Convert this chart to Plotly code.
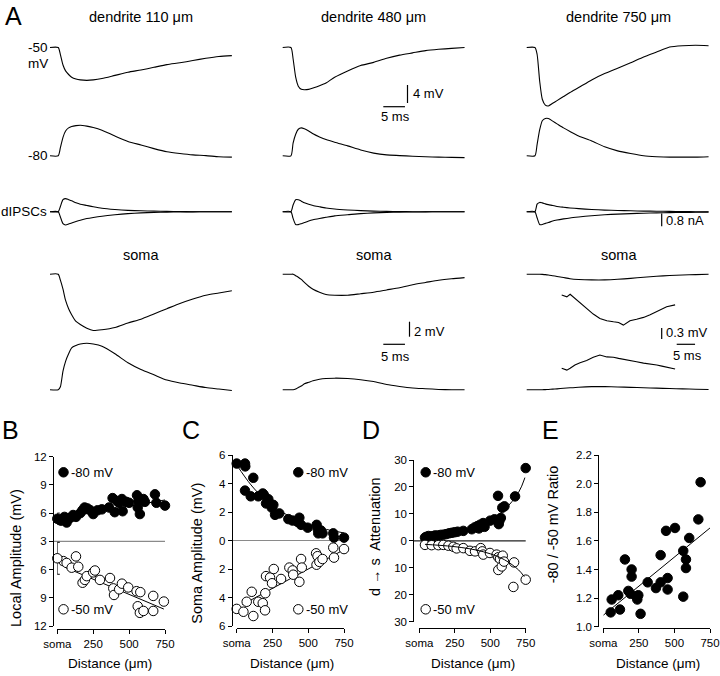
import plotly.graph_objects as go

W, H = 720, 676
FONT = "Liberation Sans"

# ---------------- Panel A: example traces (time in ms; mV or nA) ----------------
T = [0, 1.9, 2.4, 3.0, 3.6, 4.3, 5.0, 6.0, 7.0, 8.5, 10, 12, 15, 18, 21, 24, 27, 30, 33, 36, 39, 42]
col_titles = ["dendrite 110 μm", "dendrite 480 μm", "dendrite 750 μm"]

dend50_110 = [0, 0, -1.6, -3.9, -5.2, -6.0, -6.6, -7.0, -7.2, -7.3, -7.2, -6.9, -6.2, -5.5, -5.0, -4.4, -3.8, -3.4, -2.9, -2.4, -2.0, -1.8]
dend80_110 = [0, 0, 1.8, 4.1, 5.5, 6.2, 6.5, 6.7, 6.8, 6.6, 6.3, 5.7, 4.4, 3.2, 2.4, 1.6, 0.9, 0.5, 0.2, 0.05, -0.2, -0.3]
dend50_480 = [0, 0, -2.5, -6.6, -8.6, -9.3, -9.4, -9.3, -9.0, -8.5, -7.9, -6.6, -5.2, -4.0, -3.3, -2.4, -1.7, -1.2, -0.7, -0.4, -0.2, 0.0]
dend80_480 = [0, 0, 2.8, 4.8, 5.9, 6.2, 6.0, 5.5, 4.9, 4.2, 3.6, 3.0, 2.2, 1.3, 0.6, 0.2, 0.05, -0.1, -0.2, -0.3, -0.35, -0.4]
dend50_750 = [0, 0, -1.5, -7.5, -11.5, -12.8, -13.0, -12.4, -11.8, -10.9, -10.0, -8.9, -7.2, -5.8, -4.6, -3.4, -2.1, -1.0, 0.1, 0.4, 0.5, 0.4]
dend80_750 = [0, 0, 2.5, 5.8, 7.8, 8.3, 8.3, 7.7, 7.1, 6.2, 5.4, 4.4, 3.3, 2.0, 1.1, 0.5, 0.0, -0.2, -0.3, -0.3, -0.3, -0.2]

ipsc_out_110 = [0, 0, 0.33, 0.75, 0.82, 0.75, 0.68, 0.56, 0.47, 0.39, 0.31, 0.22, 0.14, 0.085, 0.056, 0.038, 0.02, 0.01, 0, 0, 0, 0]
ipsc_in_110 = [0, 0, -0.33, -0.75, -0.83, -0.77, -0.7, -0.61, -0.53, -0.43, -0.36, -0.28, -0.19, -0.12, -0.075, -0.047, -0.028, -0.019, -0.01, 0, 0, 0]
ipsc_out_480 = [0, 0, 0.42, 0.75, 0.75, 0.66, 0.56, 0.47, 0.39, 0.31, 0.235, 0.17, 0.11, 0.066, 0.038, 0.019, 0.01, 0, 0, 0, 0, 0]
ipsc_in_480 = [0, 0, -0.42, -0.8, -0.81, -0.75, -0.68, -0.58, -0.5, -0.42, -0.35, -0.26, -0.19, -0.12, -0.075, -0.047, -0.028, -0.019, -0.01, 0, 0, 0]
ipsc_out_750 = [0, 0, 0.47, 0.58, 0.55, 0.49, 0.44, 0.39, 0.33, 0.28, 0.235, 0.19, 0.14, 0.1, 0.075, 0.056, 0.038, 0.028, 0.019, 0.01, 0, 0]
ipsc_in_750 = [0, 0, -0.38, -0.8, -0.8, -0.73, -0.68, -0.58, -0.52, -0.45, -0.39, -0.33, -0.25, -0.19, -0.15, -0.12, -0.094, -0.075, -0.056, -0.047, -0.038, -0.028]

soma50_110 = [0, 0, -0.8, -2.0, -3.5, -4.6, -5.4, -6.3, -6.7, -7.2, -7.5, -7.4, -7.1, -6.5, -6.0, -5.3, -4.6, -3.9, -3.3, -2.8, -2.5, -2.2]
soma80_110 = [0, 0, 0.4, 2.5, 3.8, 4.8, 5.6, 5.9, 6.1, 6.2, 6.1, 5.8, 4.8, 3.6, 2.7, 2.0, 1.3, 0.9, 0.6, 0.3, 0.1, -0.1]
soma50_480 = [0, 0, 0, -0.2, -0.4, -0.7, -1.1, -1.6, -2.0, -2.4, -2.7, -2.8, -2.8, -2.6, -2.4, -2.1, -1.8, -1.4, -1.1, -0.8, -0.6, -0.45]
soma80_480 = [0, 0, 0, 0.1, 0.3, 0.5, 0.8, 1.0, 1.2, 1.4, 1.5, 1.55, 1.5, 1.35, 1.1, 0.7, 0.45, 0.25, 0.15, 0.05, 0, 0]
soma50_750 = [0, 0, 0, 0, -0.02, -0.05, -0.1, -0.2, -0.3, -0.45, -0.6, -0.7, -0.76, -0.76, -0.68, -0.55, -0.4, -0.28, -0.17, -0.1, -0.05, 0]
soma80_750 = [0, 0, 0, 0, 0.01, 0.03, 0.05, 0.09, 0.13, 0.2, 0.27, 0.35, 0.42, 0.42, 0.38, 0.33, 0.28, 0.22, 0.17, 0.12, 0.08, 0.05]

# amplified soma traces for the 750 um site
TA = [0, 1.4, 2.3, 3.6, 5.0, 6.8, 8.6, 10.4, 12.3, 14.1, 15.5, 16.8, 17.7, 18.6, 20.4, 22.3, 24.1, 25.9, 27.3, 28.6, 30.9]
amp50_750 = [0, -0.05, 0.02, -0.09, -0.23, -0.36, -0.52, -0.64, -0.70, -0.73, -0.75, -0.82, -0.77, -0.70, -0.66, -0.61, -0.54, -0.45, -0.39, -0.32, -0.27]
amp80_750 = [0, -0.05, 0, 0.09, 0.15, 0.21, 0.30, 0.36, 0.31, 0.30, 0.27, 0.25, 0.23, 0.21, 0.18, 0.14, 0.12, 0.09, 0.06, 0.03, -0.02]

# ---------------- Panels B-E: distance (um) ----------------
dist_ticks = [0, 250, 500, 750]
dist_ticktext = ["soma", "250", "500", "750"]

B_x80 = [25, 50, 65, 90, 110, 130, 160, 175, 190, 210, 230, 250, 280, 310, 360, 385, 400, 415, 430, 450, 455, 480, 500, 555, 560, 565, 575, 600, 610, 680, 690, 750]
B_y80 = [5.2, 5.6, 5.0, 5.5, 5.8, 5.6, 6.0, 6.3, 6.6, 6.5, 6.3, 5.9, 6.3, 6.4, 6.6, 7.6, 6.1, 7.3, 7.1, 7.5, 6.2, 7.2, 7.1, 7.9, 6.6, 7.3, 5.9, 7.5, 7.2, 8.0, 7.1, 6.8]
B_x50 = [42, 65, 100, 130, 146, 176, 192, 205, 250, 262, 297, 367, 390, 395, 431, 450, 494, 552, 560, 575, 578, 600, 668, 668, 742]
B_y50 = [5.1, 5.3, 5.8, 4.6, 5.7, 7.4, 7.1, 6.7, 6.3, 6.1, 7.1, 6.9, 8.0, 8.7, 8.1, 7.5, 7.9, 8.3, 9.9, 10.6, 8.4, 10.4, 8.8, 10.4, 9.4]
B_soma80, B_err80 = 5.4, 0.6
B_soma50, B_err50 = 4.8, 1.7
B_fit80_x, B_fit80_y = [0, 750], [5.4, 7.4]
B_fit50_x, B_fit50_y = [60, 742], [5.8, 10.2]

C_x80 = [0, 58, 60, 116, 58, 98, 151, 182, 190, 205, 221, 245, 256, 268, 298, 361, 390, 426, 438, 450, 496, 559, 566, 570, 589, 600, 675, 680, 750]
C_y80 = [5.4, 5.4, 5.2, 4.4, 3.5, 3.1, 3.1, 3.3, 3.2, 2.6, 2.9, 2.3, 2.5, 1.8, 1.9, 1.5, 1.4, 1.3, 1.6, 1.1, 0.9, 1.1, 0.8, 0.5, 0.7, 0.5, 0.5, 0.2, 0.2]
C_x50 = [0, 47, 70, 105, 116, 151, 182, 198, 200, 205, 233, 247, 259, 310, 368, 391, 395, 438, 450, 455, 555, 558, 565, 578, 600, 675, 680, 750]
C_y50 = [4.8, 5.0, 4.3, 3.6, 5.3, 4.3, 4.4, 4.9, 3.7, 2.5, 2.6, 3.0, 2.0, 2.7, 1.9, 2.1, 2.4, 2.9, 1.3, 1.9, 0.9, 1.7, 1.1, 1.5, 1.3, 0.5, 1.2, 0.6]
C_fit80_x = [0, 100, 200, 300, 400, 500, 600, 750]
C_fit80_y = [5.3, 3.9, 2.85, 2.1, 1.55, 1.13, 0.84, 0.53]
C_fit50_x, C_fit50_y = [40, 740], [4.5, 0.7]

D_x80 = [40, 50, 65, 75, 90, 110, 130, 150, 170, 190, 210, 230, 250, 270, 310, 370, 390, 410, 420, 430, 450, 460, 500, 530, 555, 560, 565, 575, 585, 600, 665, 675, 750]
D_y80 = [1.2, 1.5, 1.8, 1.0, 1.7, 2.0, 2.0, 2.2, 2.3, 2.5, 2.8, 3.0, 3.2, 3.4, 3.7, 4.3, 5.0, 5.5, 4.6, 6.0, 6.6, 5.2, 7.5, 8.0, 16.7, 6.2, 7.5, 8.5, 12.3, 12.8, 30.2, 16.5, 27.0]
D_x50 = [40, 87, 134, 169, 205, 240, 263, 310, 357, 393, 433, 444, 451, 498, 545, 557, 569, 557, 581, 588, 597, 668, 663, 750]
D_y50 = [1.5, 1.6, 1.6, 1.5, 1.8, 2.2, 2.8, 2.7, 3.7, 3.9, 2.7, 3.9, 5.1, 4.5, 5.1, 6.1, 6.7, 10.8, 9.5, 5.5, 7.7, 8.0, 17.1, 14.4]
D_fit80_x = [40, 200, 300, 400, 500, 600, 700, 745]
D_fit80_y = [1.2, 2.3, 3.4, 5.0, 7.6, 11.5, 18.0, 23.5]
D_fit50_x = [40, 200, 300, 400, 500, 600, 700, 740]
D_fit50_y = [1.3, 1.9, 2.5, 3.4, 4.8, 7.0, 10.8, 13.3]

E_x = [52, 59, 105, 117, 152, 176, 192, 199, 199, 234, 239, 246, 262, 312, 370, 403, 403, 441, 452, 452, 504, 562, 562, 581, 581, 604, 668, 684, 755]
E_y = [1.10, 1.19, 1.22, 1.12, 1.47, 1.25, 1.23, 1.40, 1.35, 1.21, 1.19, 1.22, 1.09, 1.31, 1.27, 1.31, 1.50, 1.67, 1.34, 1.26, 1.69, 1.53, 1.21, 1.47, 1.41, 1.62, 1.75, 2.01, 1.87]
E_fit_x, E_fit_y = [0, 750], [1.08, 1.69]

# ---------------- layout geometry (pixels) ----------------
COL_X0 = [50, 282.7, 526.7]       # trace start of each column
MS_PX = 4.33                      # px per ms
AMP_X0, AMP_MS_PX = 561.7, 3.67
ROWS = {  # name: (axis index, baseline px, px per unit)
    "d50": (1, 47.5, 4.5), "d80": (2, 155.8, 4.5), "ipsc": (3, 211.7, 16.0),
    "s50": (4, 274.2, 7.5), "s80": (5, 389.8, 7.5),
    "a50": (6, 295.0, 36.7), "a80": (7, 368.3, 36.7),
}

def ax_name(kind, i):
    return f"{kind}axis" + ("" if i == 1 else str(i))

def ref(kind, i):
    return kind + ("" if i == 1 else str(i))

layout = {}
hidden = dict(domain=[0, 1], visible=False, fixedrange=True, automargin=False)
for i, x0 in enumerate(COL_X0, start=1):
    layout[ax_name("x", i)] = dict(range=[-x0 / MS_PX, (W - x0) / MS_PX], **hidden)
layout[ax_name("x", 4)] = dict(range=[-AMP_X0 / AMP_MS_PX, (W - AMP_X0) / AMP_MS_PX], **hidden)
for name, (i, b, s) in ROWS.items():
    layout[ax_name("y", i)] = dict(range=[(b - H) / s, b / s], **hidden)

fig = go.Figure()

def trace(x, y, xi, yi, smooth=True):
    line = dict(color="black", width=1.1)
    if smooth:
        line.update(shape="spline", smoothing=0.6)
    fig.add_trace(go.Scatter(x=x, y=y, mode="lines", line=line, xaxis=ref("x", xi), yaxis=ref("y", yi), hoverinfo="skip"))

col_sets = [
    (dend50_110, dend80_110, ipsc_out_110, ipsc_in_110, soma50_110, soma80_110),
    (dend50_480, dend80_480, ipsc_out_480, ipsc_in_480, soma50_480, soma80_480),
    (dend50_750, dend80_750, ipsc_out_750, ipsc_in_750, soma50_750, soma80_750),
]
for ci, (d50, d80, io, ii, s50, s80) in enumerate(col_sets, start=1):
    trace(T, d50, ci, ROWS["d50"][0])
    trace(T, d80, ci, ROWS["d80"][0])
    trace(T, io, ci, ROWS["ipsc"][0])
    trace(T, ii, ci, ROWS["ipsc"][0])
    trace(T, s50, ci, ROWS["s50"][0])
    trace(T, s80, ci, ROWS["s80"][0])
trace(TA, amp50_750, 4, ROWS["a50"][0], smooth=False)
trace(TA, amp80_750, 4, ROWS["a80"][0], smooth=False)

shapes = []
annotations = []

def t_of(x0, sx, px):
    return (px - x0) / sx

def v_of(row, py):
    _, b, s = ROWS[row]
    return (b - py) / s

def vbar(xi, x_val, row, top_px, length):
    y0 = v_of(row, top_px)
    shapes.append(dict(type="line", xref=ref("x", xi), yref=ref("y", ROWS[row][0]),
                       x0=x_val, x1=x_val, y0=y0, y1=y0 - length, line=dict(color="black", width=1.2)))

def hbar(xi, x_start, row, y_px, length):
    y = v_of(row, y_px)
    shapes.append(dict(type="line", xref=ref("x", xi), yref=ref("y", ROWS[row][0]),
                       x0=x_start, x1=x_start + length, y0=y, y1=y, line=dict(color="black", width=1.2)))

# scale bars
vbar(2, t_of(COL_X0[1], MS_PX, 407.5), "d50", 85, 4)          # 4 mV
hbar(2, t_of(COL_X0[1], MS_PX, 383.3), "d50", 106.7, 5)       # 5 ms
vbar(3, t_of(COL_X0[2], MS_PX, 661.7), "ipsc", 213.5, 0.8)    # 0.8 nA
vbar(2, t_of(COL_X0[1], MS_PX, 409.5), "s50", 321.7, 2)       # 2 mV
hbar(2, t_of(COL_X0[1], MS_PX, 383.3), "s50", 344.3, 5)       # 5 ms
vbar(4, t_of(AMP_X0, AMP_MS_PX, 661.7), "a50", 328, 0.3)      # 0.3 mV
hbar(4, t_of(AMP_X0, AMP_MS_PX, 676.7), "a50", 344.3, 5)      # 5 ms

def text(x, y, s, size=13.5, xanchor="left", angle=0, yanchor="middle"):
    annotations.append(dict(x=x / W, y=1 - y / H, xref="paper", yref="paper", text=s, showarrow=False,
                            xanchor=xanchor, yanchor=yanchor, textangle=angle,
                            font=dict(family=FONT, size=size, color="black")))

text(3, 0, "A", 25, yanchor="top")
for cx, t in zip([140.8, 373.5, 618.7], col_titles):
    text(cx, 16.7, t, 14.5, "center")
    text(cx, 255, "soma", 14.5, "center")
text(26, 47.7, "-50", 13.5)
text(26, 63.5, "mV", 13.5)
text(26, 155.7, "-80", 13.5)
text(-1, 211.7, "dIPSCs", 13.5)
text(410.5, 93.3, "4 mV", 13)
text(395.8, 116.7, "5 ms", 13, "center")
text(664, 220, "0.8 nA", 13)
text(412, 331.7, "2 mV", 13)
text(395.8, 356.7, "5 ms", 13, "center")
text(664, 332.7, "0.3 mV", 13)
text(687.5, 355.7, "5 ms", 13, "center")

# ---------------- Panels B-E ----------------
PANELS = [  # letter, x idx, y idx, x-domain px, y-domain px (top,bottom), y-axis x px, x-axis y px, yrange
    ("B", 5, 8, (57.3, 165.0), (456.7, 626.0), 53.0, 629.0, (-6, 12)),
    ("C", 6, 9, (236.7, 344.0), (455.0, 626.0), 231.7, 628.0, (-6, 6)),
    ("D", 7, 10, (419.3, 525.7), (460.0, 621.7), 413.3, 628.0, (-30, 30)),
    ("E", 8, 11, (603.3, 710.0), (455.0, 626.7), 598.3, 628.0, (1.0, 2.2)),
]
ytick_sets = {
    "B": ([12, 9, 6, 3, 0, -3, -6], ["12", "9", "6", "3", "6", "9", "12"]),
    "C": ([6, 4, 2, 0, -2, -4, -6], ["6", "4", "2", "0", "2", "4", "6"]),
    "D": ([30, 20, 10, 0, -10, -20, -30], ["30", "20", "10", "0", "10", "20", "30"]),
    "E": ([1.0, 1.2, 1.4, 1.6, 1.8, 2.0, 2.2], ["1.0", "1.2", "1.4", "1.6", "1.8", "2.0", "2.2"]),
}
axstyle = dict(showline=True, linecolor="black", linewidth=1, ticks="outside", ticklen=4, tickwidth=1,
               tickcolor="black", showgrid=False, zeroline=False, fixedrange=True, automargin=False,
               tickfont=dict(family=FONT, size=11.5, color="black"))
for letter, xi, yi, (xd0, xd1), (yt, yb), yax_px, xax_px, yr in PANELS:
    layout[ax_name("x", xi)] = dict(domain=[xd0 / W, xd1 / W], range=[0, 750], anchor="free",
                                    position=1 - xax_px / H, tickvals=dist_ticks, ticktext=dist_ticktext,
                                    **axstyle)
    tv, tt = ytick_sets[letter]
    layout[ax_name("y", yi)] = dict(domain=[1 - yb / H, 1 - yt / H], range=list(yr), anchor="free",
                                    position=yax_px / W, tickvals=tv, ticktext=tt, **axstyle)

def pts(x, y, xi, yi, filled):
    fig.add_trace(go.Scatter(x=x, y=y, mode="markers", xaxis=ref("x", xi), yaxis=ref("y", yi),
                             cliponaxis=False, hoverinfo="skip",
                             marker=dict(size=9.5, color="black" if filled else "white",
                                         line=dict(color="black", width=1))))

def fit(x, y, xi, yi):
    fig.add_trace(go.Scatter(x=x, y=y, mode="lines", line=dict(color="black", width=1, shape="spline"),
                             xaxis=ref("x", xi), yaxis=ref("y", yi), cliponaxis=False, hoverinfo="skip"))

def hline(letter, yval, color):
    for L, xi, yi, (xd0, xd1), _, yax_px, _, _ in PANELS:
        if L == letter:
            shapes.append(dict(type="line", xref=ref("x", xi) + " domain", yref=ref("y", yi),
                               x0=(yax_px - xd0) / (xd1 - xd0), x1=1, y0=yval, y1=yval,
                               line=dict(color=color, width=1.2), layer="below"))

# B: -50 mV amplitudes are plotted downward from the 3 mV line (mirror axis)
hline("B", 3, "#8a8a8a")
fit(B_fit80_x, B_fit80_y, 5, 8)
fit(B_fit50_x, [6 - v for v in B_fit50_y], 5, 8)
pts(B_x80, B_y80, 5, 8, True)
pts(B_x50, [6 - v for v in B_y50], 5, 8, False)
for m, e, filled in [(B_soma80, B_err80, True), (6 - B_soma50, B_err50, False)]:
    fig.add_trace(go.Scatter(x=[0], y=[m], mode="markers", xaxis="x5", yaxis="y8", cliponaxis=False,
                             error_y=dict(type="data", array=[e], width=2.5, thickness=1, color="black"),
                             marker=dict(size=9.5, color="black" if filled else "white",
                                         line=dict(color="black", width=1)), hoverinfo="skip"))

hline("C", 0, "#8a8a8a")
fit(C_fit80_x, C_fit80_y, 6, 9)
fit(C_fit50_x, [-v for v in C_fit50_y], 6, 9)
pts(C_x80, C_y80, 6, 9, True)
pts(C_x50, [-v for v in C_y50], 6, 9, False)

hline("D", 0, "#222222")
pts(D_x80, D_y80, 7, 10, True)
pts(D_x50, [-v for v in D_y50], 7, 10, False)
fit(D_fit80_x, D_fit80_y, 7, 10)
fit(D_fit50_x, [-v for v in D_fit50_y], 7, 10)

pts(E_x, E_y, 8, 11, True)
fit(E_fit_x, E_fit_y, 8, 11)

# panel letters, legends, axis titles
for L, xp in zip("BCDE", [0, 180, 360, 540]):
    text(xp, 430, L, 25)

def legend_dot(xp, yp, filled):
    shapes.append(dict(type="circle", xref="paper", yref="paper", xsizemode="pixel", ysizemode="pixel",
                       xanchor=xp / W, yanchor=1 - yp / H, x0=-4.75, x1=4.75, y0=-4.75, y1=4.75,
                       fillcolor="black" if filled else "white", line=dict(color="black", width=1)))

for dx, tx in [(63.5, 68.5), (298.3, 304), (425.7, 430.7)]:
    legend_dot(dx, 472.3, True)
    text(tx, 472.3, "-80 mV", 13)
    legend_dot(dx, 609.3, False)
    text(tx, 609.3, "-50 mV", 13)

for cx in [110, 291.7, 473.3, 658.3]:
    text(cx, 663, "Distance (μm)", 13.5, "center")
text(16, 558, "Local Amplitude (mV)", 14.5, "center", -90)
text(196.7, 553, "Soma Amplitude (mV)", 14.5, "center", -90)
text(375, 537, "d \u2192 s  Attenuation", 14.5, "center", -90)
text(553.3, 524, "-80 / -50 mV Ratio", 14.5, "center", -90)

fig.update_layout(template="none", width=W, height=H, margin=dict(l=0, r=0, t=0, b=0, pad=0),
                  paper_bgcolor="white", plot_bgcolor="rgba(0,0,0,0)", showlegend=False,
                  shapes=shapes, annotations=annotations,
                  font=dict(family=FONT, color="black"), **layout)
fig.write_html("out.html", config={"displayModeBar": False, "staticPlot": True},
               post_script="document.body.style.margin='0px';")
